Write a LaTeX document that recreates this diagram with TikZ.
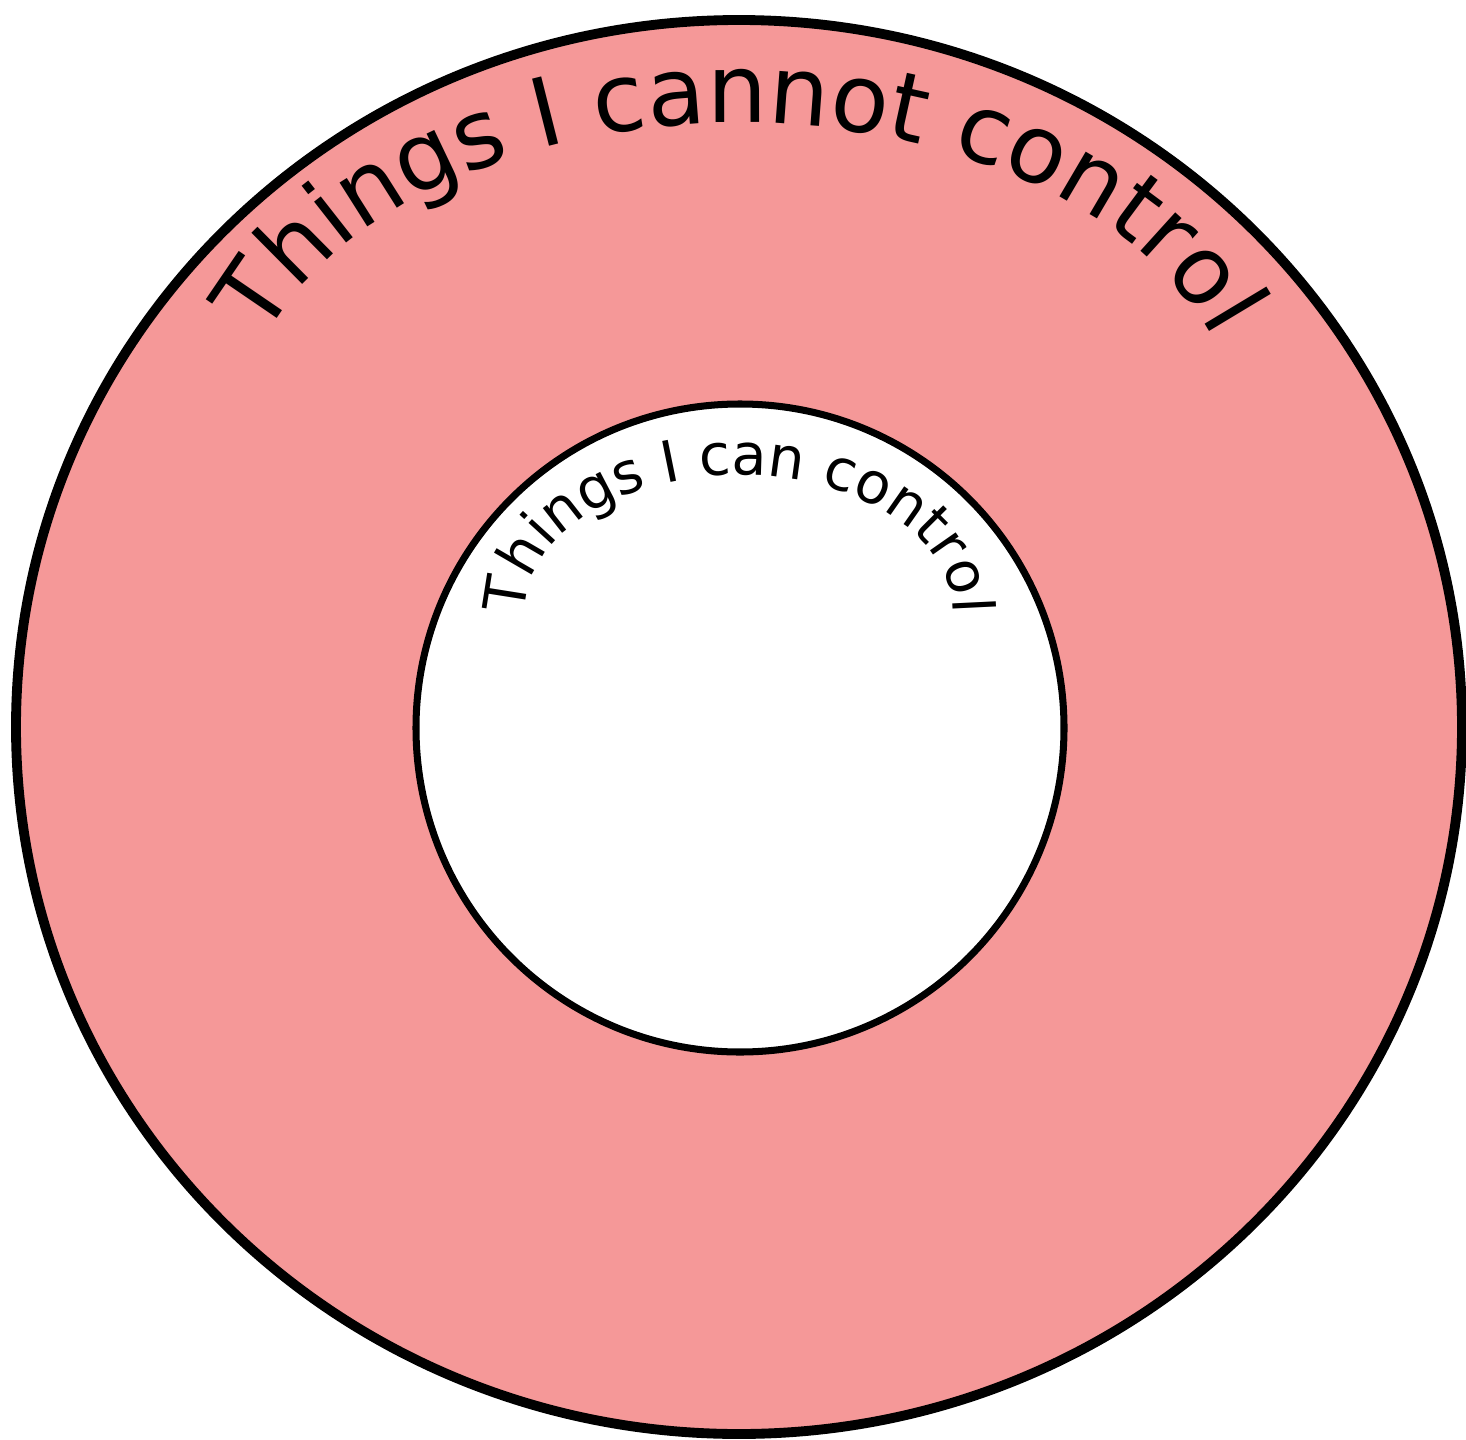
\documentclass[tikz,border=0pt]{standalone}
\usepackage{fontspec}
\setmainfont{DejaVu Sans}
\usepackage{tikz}
\usetikzlibrary{decorations.text, calc}
\definecolor{rosa}{RGB}{245,152,152}
\newcommand{\bigarch}{\fontsize{27}{31}\selectfont}
\newcommand{\smallarch}{\fontsize{16.3}{19}\selectfont}

\begin{document}
\begin{tikzpicture}[
      ring/.style={draw=black, line width=2.8pt, fill=rosa},
      core/.style={draw=black, line width=2pt, fill=white},
      archtext/.style={decorate, decoration={text along path, text align=center, text={#1}}},
    ]
    \useasboundingbox (0,0) rectangle (14.66,14.39);
    \coordinate (mid) at (7.39,7.12);
    \coordinate (hub) at (7.40,7.11);
    \coordinate (bigc) at (7.39,9.97);
    \coordinate (smallc) at (7.39,8.28);
    \filldraw[ring] (mid) ellipse [x radius=7.23, y radius=7.07];
    \filldraw[core] (hub) circle [radius=3.24];
    \path[archtext={|\bigarch|Things I cannot control}]
      ($(bigc)+(161:5.01 and 3.19)$) arc [start angle=161, end angle=19, x radius=5.01, y radius=3.19];
    \path[archtext={|\smallarch|Things I can control}]
      ($(smallc)+(179:2.14 and 1.36)$) arc [start angle=179, end angle=1, x radius=2.14, y radius=1.36];
  \end{tikzpicture}
\end{document}
